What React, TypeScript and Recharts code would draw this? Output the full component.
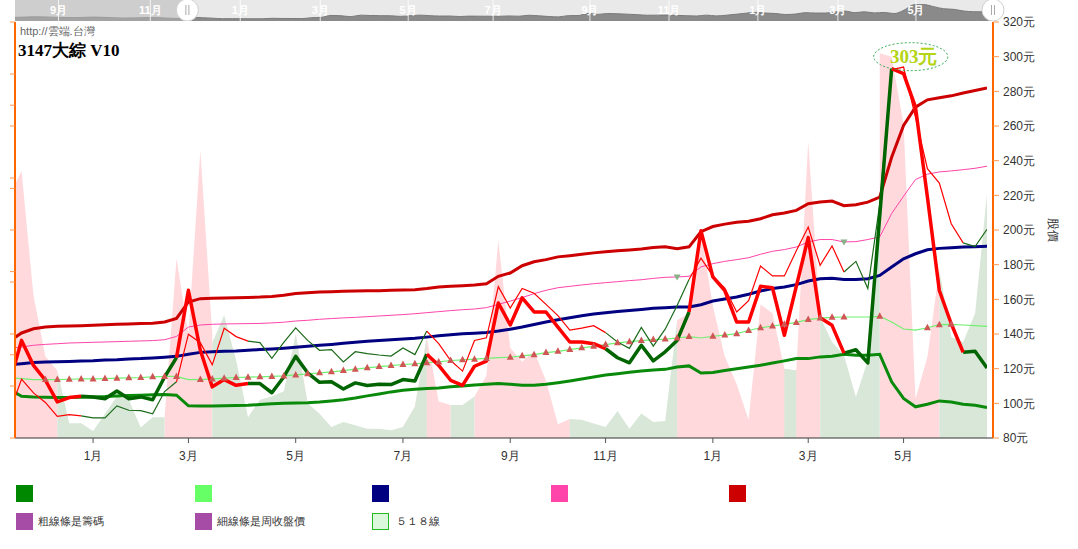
import React from 'react';
import {
    ComposedChart,
    AreaChart,
    Area,
    Line,
    XAxis,
    YAxis,
    Label,
    ReferenceDot,
    ReferenceArea,
    ReferenceLine,
} from 'recharts';

// 週資料，第一筆 (week -1) 在視窗左邊外面一點
const firstWeek = -1;

// 粗線：籌碼
const chip = [
    112, 136.3, 121.9, 113.3, 100.8, 103.3, 104.1, 103.7, 102.7, 107.1, 102.7, 103.7, 102.1, 115.2, 126.4,
    165.2, 130.6, 109.5, 113.7, 110.4, 111.4, 111.4, 106.1, 115.2, 127.1, 117.6, 112.1, 112.5, 108.3, 111.8,
    110.3, 111, 110.8, 113.7, 112.9, 128.3, 121.9, 113.3, 110.4, 121.4, 124.4, 157.9, 145.2, 160.9, 152.7,
    152.7, 144, 135.4, 135.4, 134.4, 131.5, 126.3, 123.4, 133.5, 124.5, 129.7, 136.3, 152.7, 199.6, 172.9,
    165, 146.9, 146.9, 167.5, 166.7, 139.3, 167.5, 195.6, 149.4, 145, 129, 130.9, 123.3, 208, 293.1,
    290.2, 270.9, 219, 165.1, 145.9, 129.5, 130, 120.4,
];

// 細線：周收盤價
const weeklyClose = [
    95, 114, 106, 100.5, 92.5, 93.5, 92.8, 91.6, 91.6, 98.5, 96, 95.8, 94, 106.8, 112.4,
    139.9, 135, 122.2, 143.3, 138.5, 135.9, 135, 126, 135.1, 143.5, 136.3, 130.6, 131, 123.9, 129.8,
    128.7, 127.9, 127.3, 131.9, 128.1, 141.7, 134.4, 124.7, 118.6, 136.3, 137.8, 167.3, 155, 166.3, 163.5,
    157.1, 150.6, 142.3, 143.4, 144.8, 140.8, 135.4, 131.7, 143.8, 133, 142.8, 156.5, 171.4, 183.7, 173.5,
    166.5, 152.7, 159.2, 179.2, 173.5, 173.5, 188, 201.7, 179.6, 190.8, 175.8, 181.9, 166.2, 215, 292.5,
    294, 265, 235.4, 227.1, 203.6, 192.6, 190.4, 200.4,
];

const maLong = [
    136, 140.6, 143, 144, 144.4, 144.6, 144.8, 145, 145.3, 145.6, 145.8, 146, 146.2, 146.9, 149,
    158.5, 160.4, 160.6, 160.7, 160.9, 161.1, 161.3, 161.7, 162.3, 163.4, 163.8, 164.2, 164.4, 164.6, 164.8,
    165, 165, 165.2, 165.4, 165.6, 166.2, 167.1, 167.5, 167.9, 168.3, 169, 173.3, 175.2, 179.4, 181.7,
    182.9, 184.5, 185.2, 186, 186.8, 187.4, 188, 188.5, 189.1, 189.9, 190.3, 189.2, 190.3, 199, 202,
    203.4, 204.5, 205, 206.5, 208.8, 209.8, 211.3, 215.2, 216.1, 216.7, 214, 214.6, 216.1, 219, 242,
    260.3, 270.9, 275.1, 276.3, 277.4, 279, 280.5, 282,
];

const maMid = [
    131.8, 132.5, 133.5, 134, 134.4, 134.8, 135, 135.2, 135.4, 135.6, 135.8, 136, 136.2, 136.7, 138.6,
    144, 145.2, 145.6, 145.8, 145.9, 146, 146.1, 146.4, 146.8, 147.5, 147.9, 148.5, 148.9, 149.3, 149.6,
    150, 150.4, 150.8, 151.2, 151.7, 152.3, 152.9, 153.5, 154, 154.4, 155.2, 157.1, 159, 161, 163.3,
    165.2, 166.7, 167.5, 168.3, 169, 169.6, 170.2, 170.8, 171.3, 172.1, 172.7, 172.9, 173.3, 178.7, 180.6,
    181.9, 182.9, 184, 186, 187.7, 188.7, 190.2, 193.1, 194.5, 194.5, 193.1, 193.3, 194.5, 196, 209.5,
    219.5, 229.1, 232.2, 233.5, 234.1, 234.8, 235.6, 236.8,
];

const maShort = [
    122.3, 122.9, 123.5, 123.8, 124, 124.2, 124.4, 124.6, 125, 125.2, 125.6, 125.8, 126.2, 126.6, 127.1,
    128.3, 129.4, 129.8, 130, 130.2, 130.6, 131, 131.4, 131.8, 132.3, 132.9, 133.5, 134, 134.6, 135.2,
    135.8, 136.3, 136.7, 137.1, 137.5, 138.2, 139, 139.6, 140.2, 140.5, 140.9, 141.7, 142.8, 144, 145.5,
    146.9, 148.2, 149.4, 150.5, 151.5, 152.3, 153, 153.6, 154.2, 154.8, 155.2, 155.6, 155.6, 156.9, 159,
    160.2, 161.3, 162.9, 164.8, 166.2, 167.1, 168.5, 170.6, 171.9, 172.1, 171.5, 171.5, 171.9, 173.8, 178.6,
    183.4, 186.3, 188.6, 189.4, 189.8, 190.2, 190.4, 190.6,
];

// 518線
const line518 = [
    114.8, 114.3, 113.7, 113.7, 113.7, 113.9, 114.1, 114.1, 114.3, 114.5, 114.7, 114.9, 115.3, 115.5, 115.5,
    113.7, 113.7, 114.1, 114.5, 114.9, 115.1, 115.3, 115.5, 115.8, 116.4, 117, 117.6, 118.2, 118.9, 119.7,
    120.5, 121.2, 121.8, 122.4, 122.8, 123.4, 123.9, 124.7, 125.1, 125.5, 125.9, 126.4, 126.6, 127.4, 128.1,
    129.3, 130, 131, 132, 132.9, 133.9, 134.9, 135.6, 136.2, 136.8, 137.1, 137.7, 138.5, 137.7, 138.7,
    139.4, 140.2, 142, 143.6, 144.6, 145.6, 146.7, 148.3, 149.2, 149.6, 149.8, 149.8, 149.8, 150.2, 146.9,
    142.9, 142.2, 143.6, 145.4, 145.6, 145.2, 144.8, 144.4,
];

const maLow = [
    108, 104.1, 103.7, 103.5, 103.3, 103.3, 103.5, 103.7, 103.9, 104.3, 104.5, 104.7, 104.9, 105.1, 104.7,
    98.6, 98.4, 98.4, 98.6, 98.8, 98.9, 99.3, 99.8, 100, 100.2, 100.4, 100.8, 101.4, 102.1, 103.1,
    104.3, 105.4, 106.6, 107.5, 108.1, 108.5, 108.9, 109.5, 110, 110.6, 111, 111.4, 111, 110.4, 110.4,
    111, 111.9, 112.9, 114, 115.2, 116.4, 117.1, 117.9, 118.7, 119.2, 119.6, 121, 121.6, 117.5, 117.8,
    118.9, 120, 121, 122, 123.3, 124.5, 125.8, 125.8, 126.8, 127.2, 128.3, 127.7, 127.7, 128.3, 112.4,
    102.8, 98, 99.5, 101.4, 100.8, 99.5, 98.9, 97.6,
];

// 背景量 (左軸)
const volume = [
    140, 154, 82, 47, 39, 8.5, 8.5, 4, 14, 24, 22, 6, 12, 12, 103.5,
    60, 166, 60, 70.8, 45, 12, 22, 24, 27, 60, 20, 14, 6.4, 9.2, 7.3,
    5.4, 5.4, 4.4, 6.4, 18, 58, 21, 19, 19, 24, 36, 114, 52, 44, 50,
    33, 8, 11, 10.6, 8.3, 6.4, 15.6, 5.4, 14.1, 9.2, 9.8, 68, 72, 119, 76,
    47, 31, 10.5, 77, 72, 40, 39, 171, 70, 55.4, 47.7, 23.7, 44.8, 222, 220,
    181, 22.7, 46.7, 97, 58.3, 55.4, 71.8, 141,
];
// 顏色交界處綠色那邊的高度
const volumeGreenEdge: Record<number, number> = { 16: 55, 72: 140 };

const redRanges = [[-1, 5], [13, 19], [34, 49], [56, 69], [73, 79]];
const pinkRanges = [[-1, 3], [12, 16], [23, 24], [32, 33], [34, 36], [38, 46], [55, 64], [65, 67], [72, 77]];
const upMarkRanges = [[2, 13], [15, 39], [41, 56], [58, 69], [72, 72], [76, 78]];
const downMarkWeeks = [55, 69];

const monthTicks = [6, 14, 23, 32, 41, 49, 58, 66, 74];
const monthLabels = ['1月', '3月', '5月', '7月', '9月', '11月', '1月', '3月', '5月'];
const priceTicks = [80, 100, 120, 140, 160, 180, 200, 220, 240, 260, 280, 300, 320];
const volumeTicks = [0, 30, 48, 60, 90, 96, 120, 144, 150, 180, 192, 210, 240];

// 導覽列
const navEarly = [112, 116, 120, 118, 114, 110, 108, 112, 116, 112, 106, 102, 104, 108, 110, 104, 98];
const navTicks = [4.4, 13.7, 22.8, 30.9, 39.8, 48.4, 58.2, 66.2, 75.2, 83.3, 91.2];
const navLabels = ['9月', '11月', '1月', '3月', '5月', '7月', '9月', '11月', '1月', '3月', '5月'];
const navViewStart = 17.45;

const peakNote = { week: 74.6, price: 300, text: '303元' };

const legendColors = ['#008800', '#66ff66', '#000080', '#ff44aa', '#cc0000'];

const inside = (w: number, ranges: number[][]) => ranges.some(([a, b]) => w >= a && w <= b);
const strictlyInside = (w: number, ranges: number[][]) => ranges.some(([a, b]) => w > a && w < b);

const chartData = chip.map((v, i) => {
    const w = firstWeek + i;
    const red = inside(w, redRanges);
    const green = !strictlyInside(w, redRanges);
    return {
        w,
        volPink: inside(w, pinkRanges) ? volume[i] : null,
        volGreen: !strictlyInside(w, pinkRanges) ? (volumeGreenEdge[w] ?? volume[i]) : null,
        maLong: maLong[i],
        maMid: maMid[i],
        maShort: maShort[i],
        line518: line518[i],
        maLow: maLow[i],
        chipRed: red ? v : null,
        chipGreen: green ? v : null,
        closeRed: red ? weeklyClose[i] : null,
        closeGreen: green ? weeklyClose[i] : null,
    };
});

const navData = [...navEarly, ...weeklyClose].map((v, n) => ({ n, v }));

const axisFont = { fontSize: 12, fill: '#333', fontFamily: '"Liberation Sans", Arial, sans-serif' };

const renderUpMark = (props: any) => {
    const { cx, cy, payload, index } = props;
    if (cx == null || cy == null || !inside(payload.w, upMarkRanges)) return <g key={`u${index}`} />;
    return (
        <path
            key={`u${index}`}
            d={`M${cx},${cy - 4}L${cx + 3.5},${cy + 2.5}L${cx - 3.5},${cy + 2.5}Z`}
            fill="#d05555"
        />
    );
};

const renderDownMark = (props: any) => {
    const { cx, cy, payload, index } = props;
    if (cx == null || cy == null || !downMarkWeeks.includes(payload.w)) return <g key={`d${index}`} />;
    return (
        <path
            key={`d${index}`}
            d={`M${cx - 3.5},${cy - 2.5}L${cx + 3.5},${cy - 2.5}L${cx},${cy + 3.5}Z`}
            fill="#88b088"
        />
    );
};

const PeakBadge = (props: any) => {
    const { cx, cy } = props;
    return (
        <g>
            <ellipse cx={cx} cy={cy} rx={37} ry={14} fill="none" stroke="#2aa84a" strokeDasharray="2 2" />
            <text
                x={cx + 3}
                y={cy}
                textAnchor="middle"
                dominantBaseline="central"
                fill="#b4d416"
                fontSize={19}
                fontWeight="bold"
                fontFamily='"Liberation Serif", serif'
            >
                {peakNote.text}
            </text>
        </g>
    );
};

const NavHandle = (props: any) => {
    const { cx } = props;
    return (
        <g>
            <circle cx={cx} cy={10} r={11} fill="#fff" stroke="#d0d0d0" />
            <line x1={cx - 1.5} y1={5} x2={cx - 1.5} y2={15} stroke="#aaa" />
            <line x1={cx + 1.5} y1={5} x2={cx + 1.5} y2={15} stroke="#aaa" />
        </g>
    );
};

const StockChart: React.FC = () => {
    return (
        <div
            style={{
                position: 'absolute',
                left: 0,
                top: 0,
                width: 1078,
                height: 549,
                background: '#fff',
                fontFamily: '"Liberation Sans", Arial, sans-serif',
            }}
        >
            <div style={{ position: 'absolute', left: 0, top: 0 }}>
                <ComposedChart width={1078} height={470} data={chartData} margin={{ top: 22, right: 0, bottom: 2, left: 0 }}>
                    <XAxis
                        dataKey="w"
                        type="number"
                        domain={[-0.55, 81]}
                        allowDataOverflow
                        ticks={monthTicks}
                        interval={0}
                        tickFormatter={(v) => monthLabels[monthTicks.indexOf(v)] ?? ''}
                        padding={{ left: 0, right: 6 }}
                        height={30}
                        tick={axisFont}
                        tickSize={5}
                        tickMargin={8}
                        axisLine={{ stroke: '#333' }}
                        tickLine={{ stroke: '#555' }}
                    />
                    <YAxis
                        yAxisId="vol"
                        orientation="left"
                        width={15}
                        domain={[0, 240]}
                        ticks={volumeTicks}
                        interval={0}
                        tick={() => <g />}
                        tickSize={5}
                        axisLine={{ stroke: '#ff6600', strokeWidth: 2 }}
                        tickLine={{ stroke: '#ff9955' }}
                    />
                    <YAxis
                        yAxisId="price"
                        orientation="right"
                        width={85}
                        domain={[80, 320]}
                        ticks={priceTicks}
                        interval={0}
                        tickFormatter={(v) => `${v}元`}
                        tick={axisFont}
                        tickSize={6}
                        tickMargin={4}
                        axisLine={{ stroke: '#ff6600', strokeWidth: 2 }}
                        tickLine={{ stroke: '#ff9955' }}
                    >
                        <Label
                            content={(p: any) => {
                                const vb = p.viewBox || { x: 993, y: 22, width: 85, height: 416 };
                                const x = vb.x + vb.width - 25;
                                const y = vb.y + vb.height / 2;
                                return (
                                    <text
                                        x={x}
                                        y={y}
                                        transform={`rotate(90 ${x} ${y})`}
                                        textAnchor="middle"
                                        dominantBaseline="central"
                                        fontSize={12}
                                        fill="#333"
                                    >
                                        股價
                                    </text>
                                );
                            }}
                        />
                    </YAxis>

                    {/* 背景量 */}
                    <Area
                        yAxisId="vol"
                        dataKey="volPink"
                        type="linear"
                        stroke="none"
                        fill="#ffd9dc"
                        fillOpacity={1}
                        connectNulls={false}
                        isAnimationActive={false}
                    />
                    <Area
                        yAxisId="vol"
                        dataKey="volGreen"
                        type="linear"
                        stroke="none"
                        fill="#d9e7d9"
                        fillOpacity={1}
                        connectNulls={false}
                        isAnimationActive={false}
                    />

                    <Line yAxisId="price" dataKey="maLow" stroke="#0a8a0a" strokeWidth={3} dot={false} activeDot={false} isAnimationActive={false} />
                    <Line yAxisId="price" dataKey="line518" stroke="#70f070" strokeWidth={1.2} dot={renderUpMark} activeDot={false} isAnimationActive={false} />
                    <Line yAxisId="price" dataKey="maShort" stroke="#000080" strokeWidth={3} dot={false} activeDot={false} isAnimationActive={false} />
                    <Line yAxisId="price" dataKey="maMid" stroke="#ff44aa" strokeWidth={1} dot={renderDownMark} activeDot={false} isAnimationActive={false} />
                    <Line yAxisId="price" dataKey="maLong" stroke="#cc0000" strokeWidth={3} dot={false} activeDot={false} isAnimationActive={false} />

                    {/* 細線條是周收盤價 */}
                    <Line yAxisId="price" dataKey="closeGreen" stroke="#1a6a1a" strokeWidth={1.2} dot={false} activeDot={false} connectNulls={false} isAnimationActive={false} />
                    <Line yAxisId="price" dataKey="closeRed" stroke="#ff0000" strokeWidth={1.2} dot={false} activeDot={false} connectNulls={false} isAnimationActive={false} />

                    {/* 粗線條是籌碼 */}
                    <Line yAxisId="price" dataKey="chipGreen" stroke="#006400" strokeWidth={3.5} strokeLinejoin="round" dot={false} activeDot={false} connectNulls={false} isAnimationActive={false} />
                    <Line yAxisId="price" dataKey="chipRed" stroke="#ff0000" strokeWidth={3.5} strokeLinejoin="round" dot={false} activeDot={false} connectNulls={false} isAnimationActive={false} />

                    <ReferenceDot yAxisId="price" x={peakNote.week} y={peakNote.price} shape={PeakBadge} />
                </ComposedChart>
            </div>

            {/* 上方導覽列 */}
            <div style={{ position: 'absolute', left: 15, top: 0, width: 978, height: 21, background: '#e9e9e9' }} />
            <div style={{ position: 'absolute', left: 0, top: 0 }}>
                <AreaChart width={1078} height={21} data={navData} margin={{ top: 0, right: 85, bottom: 0, left: 15 }}>
                    <XAxis dataKey="n" type="number" domain={[0, 99]} hide height={0} />
                    <YAxis domain={[60, 360]} hide width={0} />
                    <Area dataKey="v" type="monotone" stroke="#7a7a7a" fill="#8a8a8a" fillOpacity={1} isAnimationActive={false} />
                    {navTicks.map((t, i) => (
                        <ReferenceLine
                            key={t}
                            x={t}
                            stroke="#ffffff"
                            strokeOpacity={0.8}
                            label={{ value: navLabels[i], position: 'center', fill: '#fff', fontSize: 11, fontWeight: 'bold' }}
                        />
                    ))}
                    <ReferenceArea x1={0} x2={navViewStart} y1={60} y2={360} fill="#b8b8b8" fillOpacity={0.55} stroke="none" />
                    <ReferenceDot x={navViewStart} y={217} shape={NavHandle} />
                    <ReferenceDot x={99} y={217} shape={NavHandle} />
                </AreaChart>
            </div>

            {/* 標題 */}
            <div style={{ position: 'absolute', left: 20, top: 24, fontSize: 11, color: '#666' }}>http://雲端.台灣</div>
            <div
                style={{
                    position: 'absolute',
                    left: 18,
                    top: 39,
                    fontSize: 17,
                    fontWeight: 'bold',
                    color: '#000',
                    fontFamily: '"Liberation Serif", serif',
                }}
            >
                3147大綜 V10
            </div>

            {/* 圖例 */}
            {legendColors.map((c, i) => (
                <div
                    key={c}
                    style={{ position: 'absolute', left: [16, 195, 372, 551, 729][i], top: 485, width: 17, height: 17, background: c }}
                />
            ))}
            <div style={{ position: 'absolute', left: 16, top: 513, width: 17, height: 17, background: '#a64ca6' }} />
            <div style={{ position: 'absolute', left: 38, top: 514, fontSize: 11, color: '#333' }}>粗線條是籌碼</div>
            <div style={{ position: 'absolute', left: 195, top: 513, width: 17, height: 17, background: '#a64ca6' }} />
            <div style={{ position: 'absolute', left: 217, top: 514, fontSize: 11, color: '#333' }}>細線條是周收盤價</div>
            <div
                style={{
                    position: 'absolute',
                    left: 372,
                    top: 513,
                    width: 15,
                    height: 15,
                    background: '#dcf8dc',
                    border: '1px solid #22bb22',
                }}
            />
            <div style={{ position: 'absolute', left: 396, top: 514, fontSize: 11, color: '#333' }}>５１８線</div>
        </div>
    );
};

export default StockChart;
